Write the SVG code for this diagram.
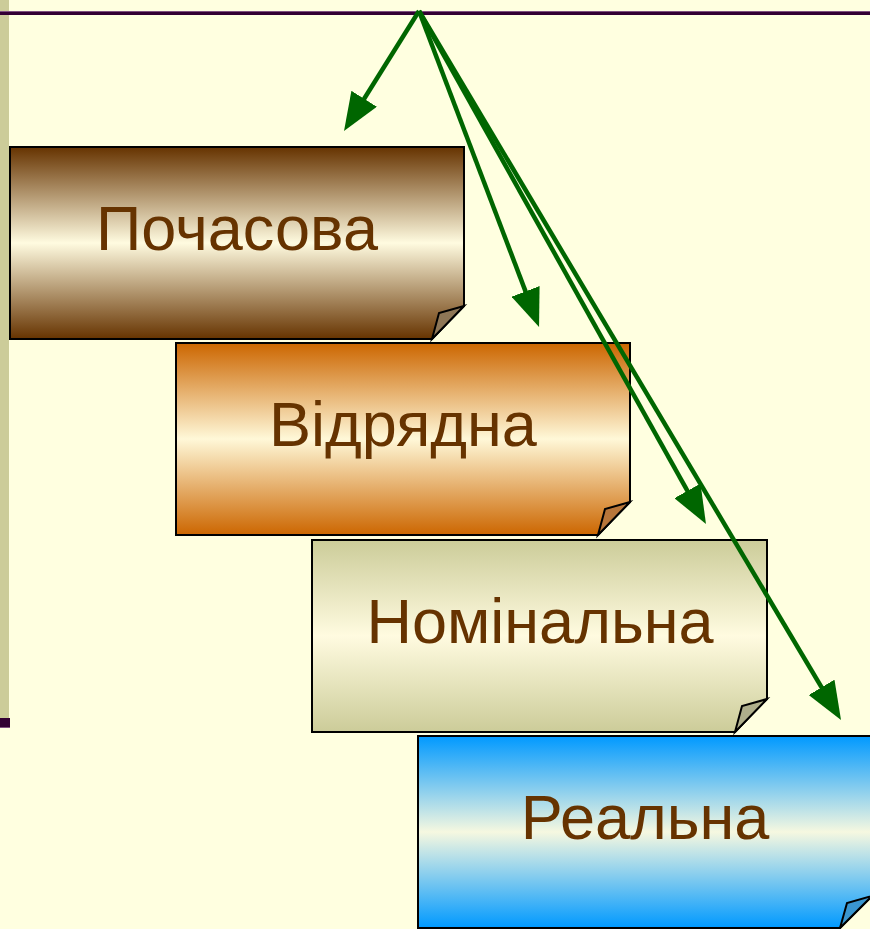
<svg xmlns="http://www.w3.org/2000/svg" width="870" height="929" viewBox="0 0 870 929">
<style>
.box{stroke:#000;stroke-width:2;stroke-linejoin:miter}
.fold{stroke:#000;stroke-width:2;stroke-linejoin:miter}
.lbl{font-family:"Liberation Sans",Arial,sans-serif;font-size:63px;fill:#663300;text-anchor:middle}
.conn{stroke:#006600;stroke-width:4.5;fill:none}
</style>
<defs>
<linearGradient id="g1" x1="0" y1="0" x2="0" y2="1"><stop offset="0" stop-color="#663300"/><stop offset="0.5" stop-color="#FFFBE0"/><stop offset="1" stop-color="#663300"/></linearGradient>
<linearGradient id="g2" x1="0" y1="0" x2="0" y2="1"><stop offset="0" stop-color="#CC6600"/><stop offset="0.5" stop-color="#FFF8D8"/><stop offset="1" stop-color="#CC6600"/></linearGradient>
<linearGradient id="g3" x1="0" y1="0" x2="0" y2="1"><stop offset="0" stop-color="#CCCC99"/><stop offset="0.5" stop-color="#FFFBE0"/><stop offset="1" stop-color="#CCCC99"/></linearGradient>
<linearGradient id="g4" x1="0" y1="0" x2="0" y2="1"><stop offset="0" stop-color="#0099FF"/><stop offset="0.5" stop-color="#F6F8E0"/><stop offset="1" stop-color="#0099FF"/></linearGradient>
<marker id="ah" markerUnits="userSpaceOnUse" markerWidth="38" markerHeight="30" viewBox="0 0 38 30" refX="28" refY="15" orient="auto">
<path d="M0,0 L38,15 L0,30 z" fill="#006600"/>
</marker>
</defs>
<rect width="870" height="929" fill="#FFFFE0"/>
<rect x="0" y="0" width="9" height="718" fill="#CCCC99"/>
<rect x="0" y="718" width="10" height="10" fill="#330033"/>
<rect x="0" y="727" width="10" height="1" fill="#805080"/>
<rect x="0" y="11" width="870" height="1" fill="#805080"/>
<rect x="0" y="12" width="870" height="3" fill="#330033"/>

<g id="node-pochasova" transform="translate(10,147)">
<polygon class="box" fill="url(#g1)" points="0,0 454,0 454,159 422,192 0,192"/>
<polygon class="fold" fill="#8E7656" points="422,192 429,166 454,159"/>
<text class="lbl" x="227" y="103">Почасова</text>
</g>
<g id="node-vidryadna" transform="translate(176,343)">
<polygon class="box" fill="url(#g2)" points="0,0 454,0 454,159 422,192 0,192"/>
<polygon class="fold" fill="#B8763A" points="422,192 429,166 454,159"/>
<text class="lbl" x="227" y="103">Відрядна</text>
</g>
<g id="node-nominalna" transform="translate(312,540)">
<polygon class="box" fill="url(#g3)" points="0,0 455,0 455,159 423,192 0,192"/>
<polygon class="fold" fill="#AFAF8C" points="423,192 430,166 455,159"/>
<text class="lbl" x="228" y="103">Номінальна</text>
</g>
<g id="node-realna" transform="translate(418,736)">
<polygon class="box" fill="url(#g4)" points="0,0 454,0 454,160 422,192 0,192"/>
<polygon class="fold" fill="#3A96D0" points="422,192 429,167 454,160"/>
<text class="lbl" x="227" y="103">Реальна</text>
</g>

<g id="connectors">
<line class="conn" x1="419" y1="11" x2="349.3" y2="122.5" marker-end="url(#ah)"/>
<line class="conn" x1="419" y1="11" x2="535.5" y2="317.6" marker-end="url(#ah)"/>
<line class="conn" x1="419" y1="11" x2="701.1" y2="515.3" marker-end="url(#ah)"/>
<line class="conn" x1="419" y1="11" x2="835.9" y2="711.4" marker-end="url(#ah)"/>
</g>
</svg>
